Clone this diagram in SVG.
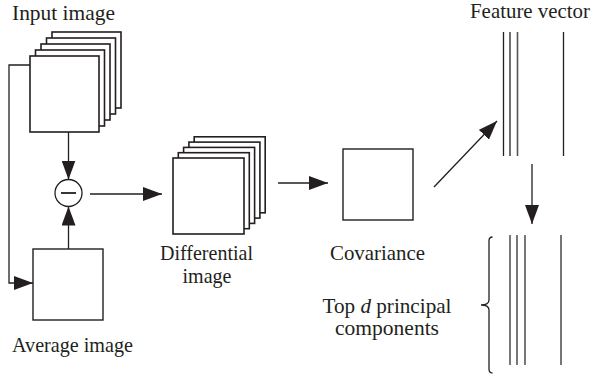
<svg xmlns="http://www.w3.org/2000/svg" width="592" height="377" viewBox="0 0 592 377">
<defs>
<marker id="ah" markerUnits="userSpaceOnUse" markerWidth="19" markerHeight="14" refX="19" refY="7" orient="auto">
<path d="M0,0 L19,7 L0,14 Z" fill="#231f20"/>
</marker>
<style>
text{font-family:'Liberation Serif','DejaVu Serif',serif;font-size:21px;fill:#231f20;text-anchor:middle}
.fr{fill:#fff;stroke:#231f20;stroke-width:1.6}
.bx{fill:#fff;stroke:#231f20;stroke-width:1.4}
.ln{fill:none;stroke:#231f20;stroke-width:1.3}
.ar{fill:none;stroke:#231f20;stroke-width:1.3;marker-end:url(#ah)}
.g{stroke:#555;stroke-width:1.6}
</style>
</defs>
<rect width="592" height="377" fill="#fff"/>

<g id="input-image">
<rect class="fr" x="52" y="32" width="69" height="76"/>
<rect class="fr" x="46.5" y="38" width="69" height="76"/>
<rect class="fr" x="41" y="44" width="69" height="76"/>
<rect class="fr" x="35.5" y="50" width="69" height="76"/>
<rect class="fr" x="30" y="56" width="69" height="76"/>
<text x="63.5" y="20" textLength="103" lengthAdjust="spacingAndGlyphs">Input image</text>
</g>

<g id="average-image">
<rect class="bx" x="33" y="249" width="70" height="71"/>
<text x="72.5" y="352" textLength="121" lengthAdjust="spacingAndGlyphs">Average image</text>
</g>

<g id="minus">
<circle cx="68.5" cy="193" r="13.5" fill="#fff" stroke="#231f20" stroke-width="1.3"/>
<line x1="61" y1="193" x2="76" y2="193" stroke="#231f20" stroke-width="1.8"/>
</g>

<g id="differential-image">
<rect class="fr" x="194.2" y="136.8" width="71" height="76"/>
<rect class="fr" x="188.9" y="142.1" width="71" height="76"/>
<rect class="fr" x="183.6" y="147.4" width="71" height="76"/>
<rect class="fr" x="178.3" y="152.7" width="71" height="76"/>
<rect class="fr" x="173" y="158" width="71" height="76"/>
<text x="206.5" y="260" textLength="93" lengthAdjust="spacingAndGlyphs">Differential</text>
<text x="207" y="283" textLength="49" lengthAdjust="spacingAndGlyphs">image</text>
</g>

<g id="covariance">
<rect class="bx" x="343" y="149" width="70" height="71"/>
<text x="377.5" y="260" textLength="95" lengthAdjust="spacingAndGlyphs">Covariance</text>
</g>

<g id="feature-vector">
<line class="ln" x1="503.5" y1="32" x2="503.5" y2="156"/>
<line class="ln" x1="510" y1="32" x2="510" y2="156"/>
<line class="ln g" x1="517.5" y1="32" x2="517.5" y2="156"/>
<line class="ln" x1="563.5" y1="32" x2="563.5" y2="156"/>
<text x="530" y="18" textLength="120" lengthAdjust="spacingAndGlyphs">Feature vector</text>
</g>

<g id="principal-components">
<line class="ln g" x1="510" y1="235" x2="510" y2="365"/>
<line class="ln g" x1="517" y1="235" x2="517" y2="365"/>
<line class="ln g" x1="525" y1="235" x2="525" y2="365"/>
<line class="ln g" x1="561" y1="235" x2="561" y2="365"/>
<path class="ln" stroke-width="1" d="M492.5,237 Q489,237 489,241 V300 Q489,305 481,305 Q489,305 489,310 V369 Q489,373 492.5,373"/>
<text x="387" y="313" textLength="129" lengthAdjust="spacingAndGlyphs">Top <tspan font-style="italic">d</tspan> principal</text>
<text x="387" y="335" textLength="104" lengthAdjust="spacingAndGlyphs">components</text>
</g>

<g id="connectors">
<path class="ar" d="M30,65 H9 V283 H33"/>
<path class="ar" d="M68.5,132 V179.5"/>
<path class="ar" d="M68.5,249 V206.5"/>
<path class="ar" d="M90,194 H162"/>
<path class="ar" d="M278,183 H328"/>
<path class="ar" d="M434,187 L497,121"/>
<path class="ar" d="M532,164 V224"/>
</g>
</svg>
